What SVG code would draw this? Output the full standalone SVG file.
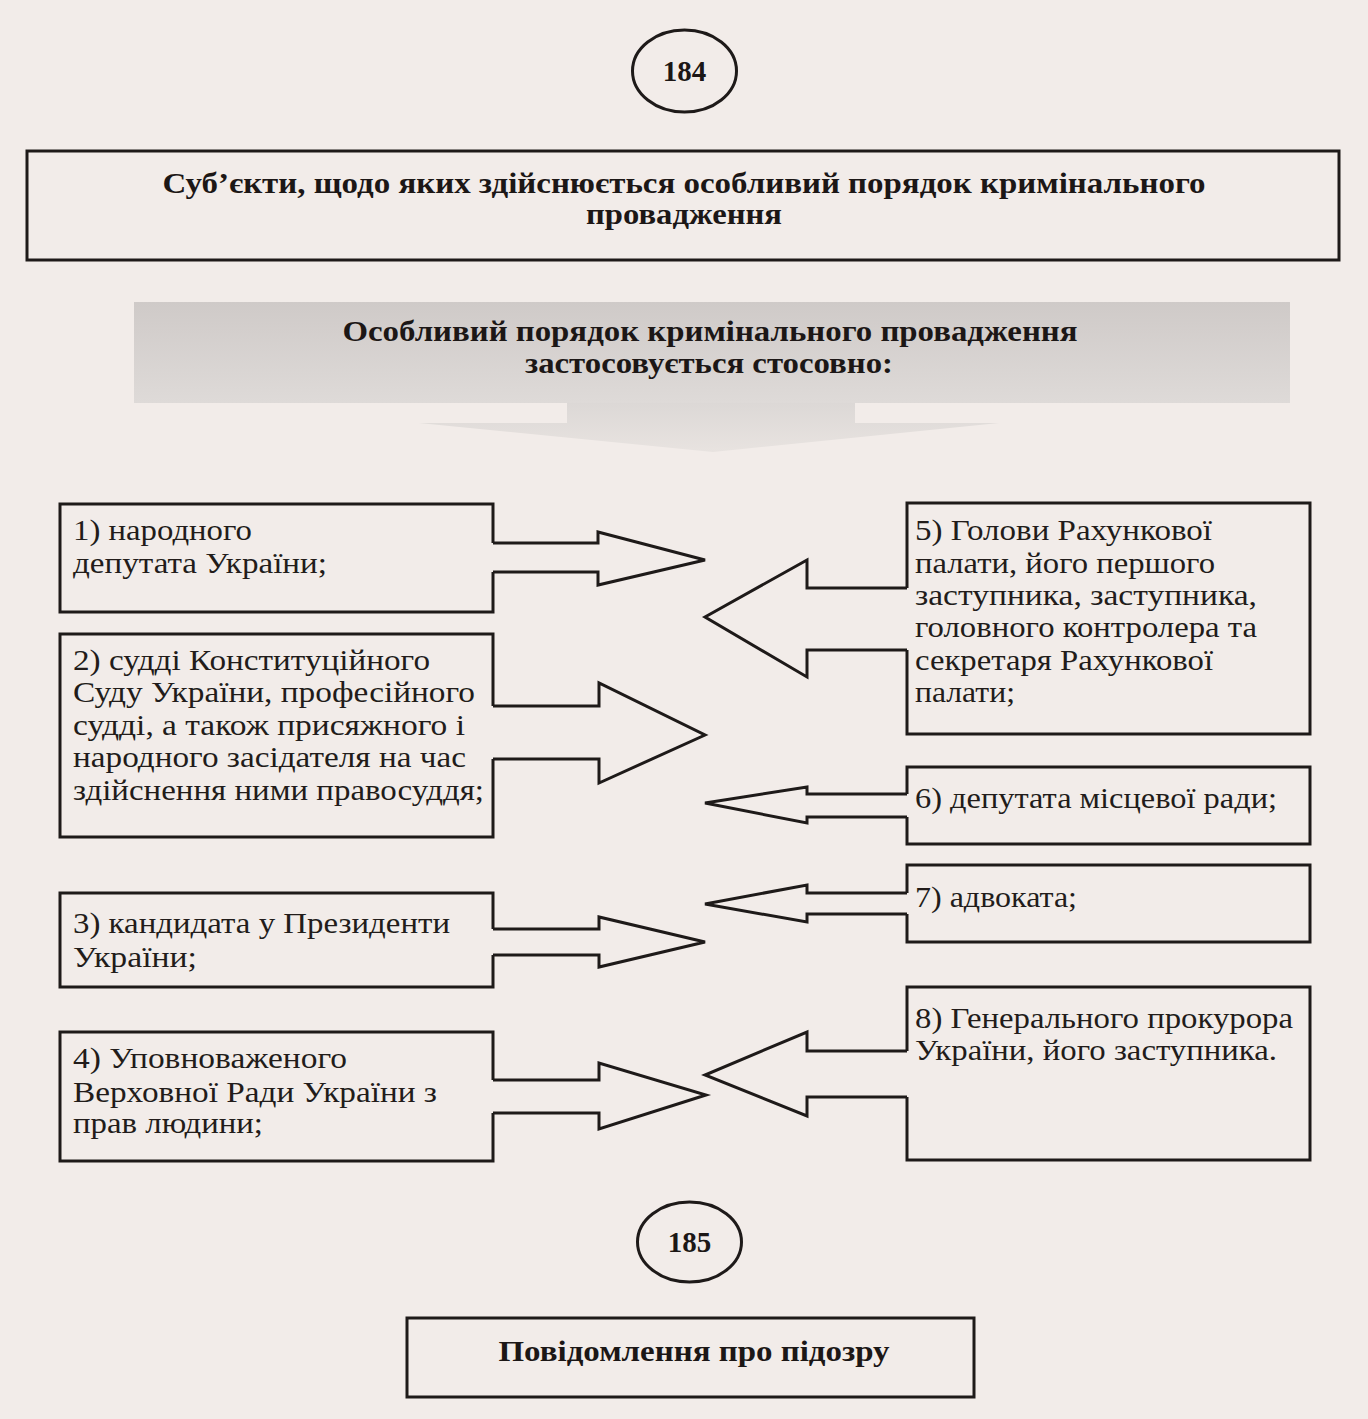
<svg xmlns="http://www.w3.org/2000/svg" width="1368" height="1419" viewBox="0 0 1368 1419">
<defs>
<linearGradient id="bannerGrad" x1="0" y1="0" x2="0" y2="1">
<stop offset="0" stop-color="#cfcac8"/>
<stop offset="1" stop-color="#dedad8"/>
</linearGradient>
<linearGradient id="downGrad" x1="0" y1="0" x2="0" y2="1">
<stop offset="0" stop-color="#dcd8d6"/>
<stop offset="1" stop-color="#e8e3e0"/>
</linearGradient>
<style>
.box{fill:none;stroke:#1e1a19;stroke-width:3;stroke-linejoin:miter}
.arr{fill:none;stroke:#1e1a19;stroke-width:3;stroke-linejoin:miter}
.t{font-family:"Liberation Serif","Times New Roman",serif;font-size:29px;fill:#221c1a}
.b{font-family:"Liberation Serif","Times New Roman",serif;font-size:29px;font-weight:bold;fill:#1c1716}
.h{font-size:29px}
.c{text-anchor:middle}
</style>
</defs>
<rect x="0" y="0" width="1368" height="1419" fill="#f2ece9"/>

<g id="page184">
<ellipse cx="684.5" cy="71" rx="52" ry="41" class="box"/>
<text x="684.5" y="81" class="b c" font-size="30">184</text>
</g>

<g id="title">
<rect x="27" y="151" width="1312" height="109" class="box"/>
<text x="684" y="193" class="b h c" textLength="1043" lengthAdjust="spacingAndGlyphs">Суб’єкти, щодо яких здійснюється особливий порядок кримінального</text>
<text x="684" y="224" class="b h c" textLength="196" lengthAdjust="spacingAndGlyphs">провадження</text>
</g>

<g id="banner">
<rect x="134" y="302" width="1156" height="101" fill="url(#bannerGrad)"/>
<path d="M567,403 H855 V423 H999 L713,452 L419,423 H567 Z" fill="url(#downGrad)"/>
<text x="710" y="341" class="b h c" textLength="735" lengthAdjust="spacingAndGlyphs">Особливий порядок кримінального провадження</text>
<text x="709" y="373" class="b h c" textLength="368" lengthAdjust="spacingAndGlyphs">застосовується стосовно:</text>
</g>

<g id="node1">
<path class="box" d="M493,543 V504 H60 V612 H493 V572"/>
<text x="73" y="540" class="t" textLength="179" lengthAdjust="spacingAndGlyphs">1) народного</text>
<text x="73" y="573" class="t" textLength="254" lengthAdjust="spacingAndGlyphs">депутата України;</text>
</g>

<g id="node2">
<path class="box" d="M493,706 V634 H60 V837 H493 V759"/>
<text x="73" y="670" class="t" textLength="357" lengthAdjust="spacingAndGlyphs">2) судді Конституційного</text>
<text x="73" y="702" class="t" textLength="402" lengthAdjust="spacingAndGlyphs">Суду України, професійного</text>
<text x="73" y="735" class="t" textLength="392" lengthAdjust="spacingAndGlyphs">судді, а також присяжного і</text>
<text x="73" y="767" class="t" textLength="393" lengthAdjust="spacingAndGlyphs">народного засідателя на час</text>
<text x="73" y="800" class="t" textLength="411" lengthAdjust="spacingAndGlyphs">здійснення ними правосуддя;</text>
</g>

<g id="node3">
<path class="box" d="M493,929 V893 H60 V987 H493 V955"/>
<text x="73" y="933" class="t" textLength="377" lengthAdjust="spacingAndGlyphs">3) кандидата у Президенти</text>
<text x="73" y="967" class="t" textLength="124" lengthAdjust="spacingAndGlyphs">України;</text>
</g>

<g id="node4">
<path class="box" d="M493,1080 V1032 H60 V1161 H493 V1113"/>
<text x="73" y="1068" class="t" textLength="274" lengthAdjust="spacingAndGlyphs">4) Уповноваженого</text>
<text x="73" y="1102" class="t" textLength="364" lengthAdjust="spacingAndGlyphs">Верховної Ради України з</text>
<text x="73" y="1133" class="t" textLength="190" lengthAdjust="spacingAndGlyphs">прав людини;</text>
</g>

<g id="node5">
<path class="box" d="M907,588 V503 H1310 V734 H907 V650"/>
<text x="915" y="540" class="t" textLength="297" lengthAdjust="spacingAndGlyphs">5) Голови Рахункової</text>
<text x="915" y="573" class="t" textLength="300" lengthAdjust="spacingAndGlyphs">палати, його першого</text>
<text x="915" y="605" class="t" textLength="342" lengthAdjust="spacingAndGlyphs">заступника,  заступника,</text>
<text x="915" y="637" class="t" textLength="342" lengthAdjust="spacingAndGlyphs">головного контролера та</text>
<text x="915" y="670" class="t" textLength="298" lengthAdjust="spacingAndGlyphs">секретаря Рахункової</text>
<text x="915" y="702" class="t" textLength="100" lengthAdjust="spacingAndGlyphs">палати;</text>
</g>

<g id="node6">
<path class="box" d="M907,794 V767 H1310 V844 H907 V817"/>
<text x="915" y="808" class="t" textLength="362" lengthAdjust="spacingAndGlyphs">6) депутата місцевої ради;</text>
</g>

<g id="node7">
<path class="box" d="M907,893 V865 H1310 V942 H907 V914"/>
<text x="915" y="907" class="t" textLength="162" lengthAdjust="spacingAndGlyphs">7) адвоката;</text>
</g>

<g id="node8">
<path class="box" d="M907,1051 V987 H1310 V1160 H907 V1097"/>
<text x="915" y="1028" class="t" textLength="378" lengthAdjust="spacingAndGlyphs">8) Генерального прокурора</text>
<text x="915" y="1060" class="t" textLength="362" lengthAdjust="spacingAndGlyphs">України, його заступника.</text>
</g>

<g id="connectors">
<path class="arr" d="M493,543 H598 V532 L705,560 L598,585 V572 H493"/>
<path class="arr" d="M493,706 H599 V683 L705,735 L599,783 V759 H493"/>
<path class="arr" d="M493,929 H599 V917 L705,942 L599,967 V955 H493"/>
<path class="arr" d="M493,1080 H599 V1063 L706,1095 L599,1129 V1113 H493"/>
<path class="arr" d="M907,588 H807 V560 L705,617 L807,677 V650 H907"/>
<path class="arr" d="M907,794 H807 V787 L705,803 L807,823 V817 H907"/>
<path class="arr" d="M907,893 H807 V885 L705,904 L807,922 V914 H907"/>
<path class="arr" d="M907,1051 H807 V1032 L705,1075 L807,1116 V1097 H907"/>
</g>

<g id="page185">
<ellipse cx="689.5" cy="1242" rx="52" ry="40" class="box"/>
<text x="689.5" y="1252" class="b c" font-size="30">185</text>
</g>

<g id="notice">
<rect x="407" y="1318" width="567" height="79" class="box"/>
<text x="694" y="1361" class="b c" font-size="31" textLength="391" lengthAdjust="spacingAndGlyphs">Повідомлення про підозру</text>
</g>
</svg>
